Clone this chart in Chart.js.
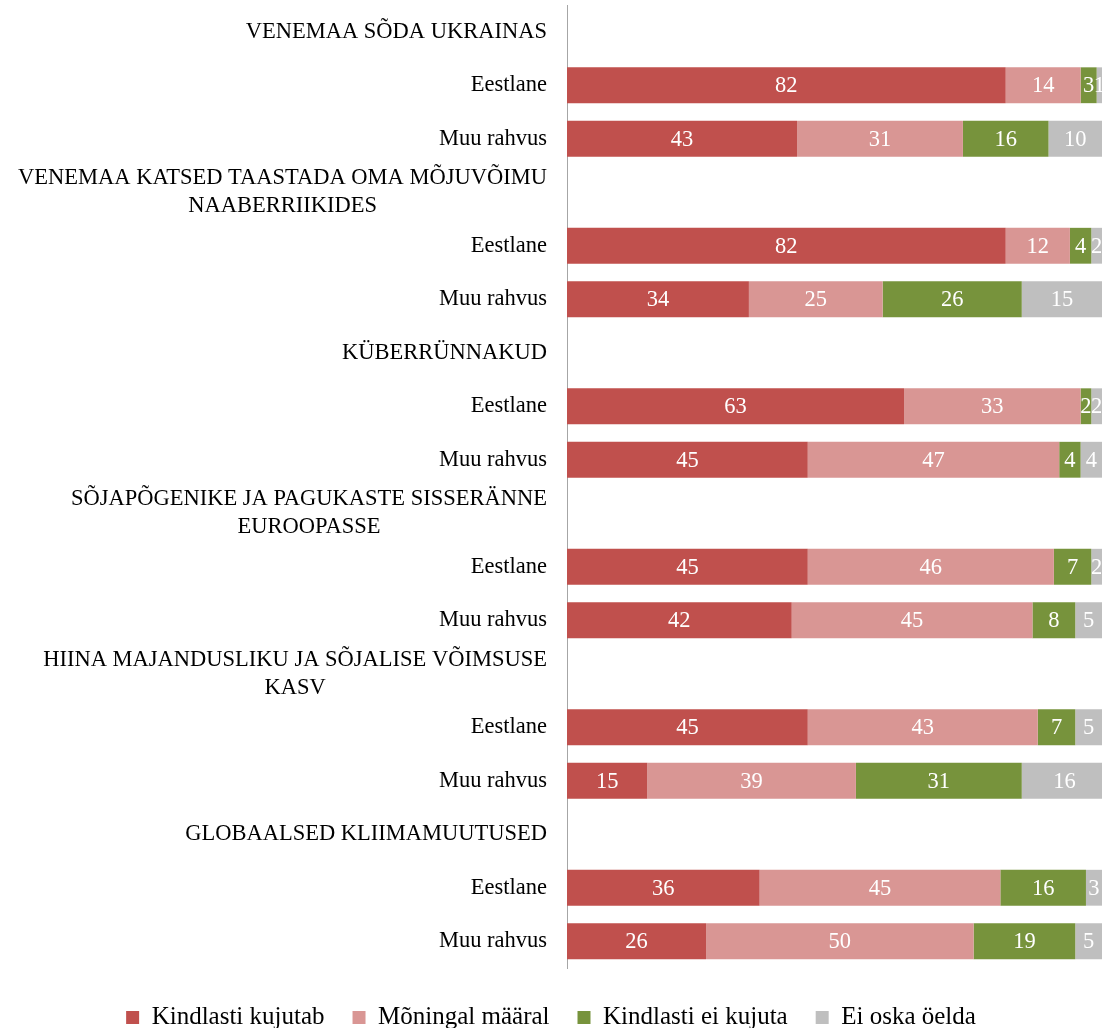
<!DOCTYPE html>
<html>
<head>
<meta charset="utf-8">
<script src="https://cdn.jsdelivr.net/npm/chart.js@4"></script>
<style>
  body { margin: 0; background: #fff; }
  #wrap { width: 1103px; height: 1028px; position: relative; }
</style>
</head>
<body>
<div id="wrap"><canvas id="threats"></canvas></div>
<script>
// teemad (pealkirja read), iga teema all kaks rida
const topics = [
    'VENEMAA SÕDA UKRAINAS',
    ['VENEMAA KATSED TAASTADA OMA MÕJUVÕIMU', 'NAABERRIIKIDES'],
    'KÜBERRÜNNAKUD',
    ['SÕJAPÕGENIKE JA PAGUKASTE SISSERÄNNE', 'EUROOPASSE'],
    ['HIINA MAJANDUSLIKU JA SÕJALISE VÕIMSUSE', 'KASV'],
    'GLOBAALSED KLIIMAMUUTUSED'
];
const groupsRows = ['Eestlane', 'Muu rahvus'];

const seriesNames = ['Kindlasti kujutab', 'Mõningal määral', 'Kindlasti ei kujuta', 'Ei oska öelda'];

// null = pealkirja rida
const kindlastiKujutab = [null, 82, 43, null, 82, 34, null, 63, 45, null, 45, 42, null, 45, 15, null, 36, 26];
const moningalMaaral   = [null, 14, 31, null, 12, 25, null, 33, 47, null, 46, 45, null, 43, 39, null, 45, 50];
const kindlastiEi      = [null, 3, 16, null, 4, 26, null, 2, 4, null, 7, 8, null, 7, 31, null, 16, 19];
const eiOskaOelda      = [null, 1, 10, null, 2, 15, null, 2, 4, null, 2, 5, null, 5, 16, null, 3, 5];

const colors = ['#C0504D', '#D99694', '#77933C', '#BFBFBF'];

let labels = [];
topics.forEach(t => { labels.push(t); groupsRows.forEach(g => labels.push(g)); });

const serif = '"Liberation Serif", "Times New Roman", serif';

// kategooria sildid: 1. rida paremale joondatud, 2. rida selle keskele
const categoryLabels = {
    id: 'categoryLabels',
    afterDraw(chart) {
        const ctx = chart.ctx;
        const y = chart.scales.y;
        const xr = y.right - 20;
        ctx.save();
        ctx.font = '22.5px ' + serif;
        ctx.fillStyle = '#000';
        ctx.textBaseline = 'middle';
        labels.forEach((lab, i) => {
            const cy = y.getPixelForValue(i);
            if (Array.isArray(lab)) {
                const w = ctx.measureText(lab[0]).width;
                ctx.textAlign = 'right';
                ctx.fillText(lab[0], xr, cy - 14);
                ctx.textAlign = 'center';
                ctx.fillText(lab[1], xr - w / 2, cy + 14);
            } else {
                ctx.textAlign = 'right';
                ctx.fillText(lab, xr, cy);
            }
        });
        ctx.restore();
    }
};

// väärtused tulpade sees
const valueLabels = {
    id: 'valueLabels',
    afterDatasetsDraw(chart) {
        const ctx = chart.ctx;
        ctx.save();
        ctx.font = '22.5px ' + serif;
        ctx.fillStyle = '#fff';
        ctx.textAlign = 'center';
        ctx.textBaseline = 'middle';
        chart.data.datasets.forEach((ds, di) => {
            chart.getDatasetMeta(di).data.forEach((bar, i) => {
                const v = ds.data[i];
                if (v == null) return;
                ctx.fillText(String(v), (bar.x + bar.base) / 2, bar.y + 1);
            });
        });
        ctx.restore();
    }
};

new Chart(document.getElementById('threats'), {
    type: 'bar',
    data: {
        labels: labels,
        datasets: [kindlastiKujutab, moningalMaaral, kindlastiEi, eiOskaOelda].map((d, i) => ({
            label: seriesNames[i],
            data: d,
            backgroundColor: colors[i],
            borderWidth: 0,
            barPercentage: 0.67,
            categoryPercentage: 1
        }))
    },
    options: {
        indexAxis: 'y',
        responsive: true,
        maintainAspectRatio: false,
        animation: false,
        layout: { padding: { top: 5, right: 1, bottom: -12, left: 0 } },
        scales: {
            x: {
                stacked: true, min: 0, max: 100,
                grid: { display: false },
                border: { display: false },
                ticks: { display: false },
                afterFit: s => { s.height = 9; }
            },
            y: {
                stacked: true,
                grid: { display: false },
                border: { display: true, color: '#A6A6A6', width: 1 },
                ticks: { display: false },
                afterFit: s => { s.width = 567; }
            }
        },
        plugins: {
            legend: {
                position: 'bottom',
                labels: {
                    font: { family: serif, size: 25 },
                    color: '#000',
                    boxWidth: 13,
                    boxHeight: 13,
                    padding: 28
                }
            },
            tooltip: { enabled: false }
        }
    },
    plugins: [categoryLabels, valueLabels]
});
</script>
</body>
</html>
